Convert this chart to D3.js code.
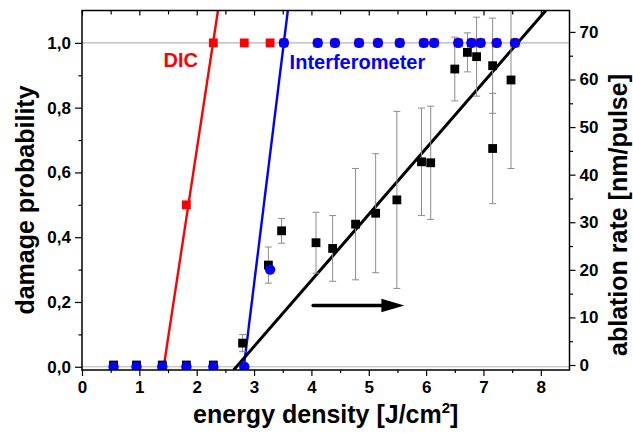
<!DOCTYPE html>
<html>
<head>
<meta charset="utf-8">
<script src="https://cdn.jsdelivr.net/npm/d3@7"></script>
<style>
  body { margin: 0; background: #fff; }
  svg { display: block; }
  text { font-family: "Liberation Sans", Arial, sans-serif; font-weight: bold; }
</style>
</head>
<body>
<svg id="chart" width="633" height="433"></svg>
<script>
// Energy density [J/cm²] of the damage tests
const energy = [0.55, 0.95, 1.40, 1.82, 2.29, 2.83, 3.28, 3.52, 4.11, 4.41, 4.83, 5.16, 5.54, 5.96, 6.14, 6.56, 6.79, 6.95, 7.23, 7.55];
// Damage probability seen with DIC microscopy
const dicProb = [0, 0, 0, 0.5, 1, 1, 1, 1, 1, 1, 1, 1, 1, 1, 1, 1, 1, 1, 1, 1];
// Damage probability seen with the interferometer
const ifmProb = [0, 0, 0, 0, 0, 0, 0.3, 1, 1, 1, 1, 1, 1, 1, 1, 1, 1, 1, 1, 1];

// Ablation rate [nm/pulse] with its spread
const ablEnergy = [0.55, 0.95, 1.40, 1.82, 2.29, 2.80, 3.25, 3.48, 4.08, 4.37, 4.77, 5.12, 5.49, 5.92, 6.08, 6.50, 6.72, 6.88, 7.16, 7.16, 7.48];
const ablRate   = [0, 0, 0, 0, 0, 4.6, 21.0, 28.2, 25.7, 24.5, 29.6, 31.9, 34.7, 42.7, 42.5, 62.2, 65.7, 64.8, 62.9, 45.5, 59.9];
const ablErr    = [0, 0, 0, 0, 0, 1.8, 3.8, 2.6, 6.4, 6.9, 11.7, 12.5, 18.6, 11.3, 11.9, 6.7, 4.1, 8.3, 10.0, 11.6, 18.6];

// Linear fits: value = slope * (E - onset)
const dicFit = { slope: 1.163, onset: 1.425 };
const ifmFit = { slope: 1.435, onset: 2.822 };
const ablFit = { slope: 13.88, onset: 2.72 };

// Tick values
const xMajor = [0, 1, 2, 3, 4, 5, 6, 7, 8];
const xMinor = [0.5, 1.5, 2.5, 3.5, 4.5, 5.5, 6.5, 7.5];
const yLMajor = [0, 0.2, 0.4, 0.6, 0.8, 1.0];
const yLMinor = [0.1, 0.3, 0.5, 0.7, 0.9];
const yRMajor = [0, 10, 20, 30, 40, 50, 60, 70];
const yRMinor = [5, 15, 25, 35, 45, 55, 65];

const svg = d3.select("#chart");
const L = 82, R = 569.5, T = 10.5, B = 370;

const x  = d3.scaleLinear().domain([0, 8.5]).range([L, R]);
const yL = d3.scaleLinear().domain([-0.01, 1.1]).range([B, T]);
const yR = d3.scaleLinear().domain([-1.05, 74.5]).range([B, T]);

svg.append("defs").append("clipPath").attr("id", "plot")
  .append("rect").attr("x", L).attr("y", T).attr("width", R - L).attr("height", B - T);

// reference lines at 0 and 1
[0, 1].forEach(v => {
  svg.append("line")
    .attr("x1", L).attr("x2", R).attr("y1", yL(v)).attr("y2", yL(v))
    .attr("stroke", "#b4b4b4").attr("stroke-width", 1.2);
});

const plot = svg.append("g").attr("clip-path", "url(#plot)");

// fit lines
function fitLine(fit, yScale, color, width) {
  const [lo, hi] = yScale.domain();
  const e0 = fit.onset + lo / fit.slope;
  const e1 = fit.onset + hi / fit.slope;
  plot.append("line")
    .attr("x1", x(e0)).attr("y1", yScale(lo))
    .attr("x2", x(e1)).attr("y2", yScale(hi))
    .attr("stroke", color).attr("stroke-width", width);
}
fitLine(dicFit, yL, "#ff0000", 2.4);
fitLine(ifmFit, yL, "#0000ff", 2.4);
fitLine(ablFit, yR, "#000000", 3);

// error bars of the ablation rate
const abl = ablEnergy.map((e, i) => ({ e, r: ablRate[i], s: ablErr[i] })).filter(d => d.s > 0);
const eb = plot.append("g").attr("stroke", "#8c8c8c").attr("stroke-width", 1);
abl.forEach(d => {
  const cx = x(d.e);
  eb.append("line").attr("x1", cx).attr("x2", cx).attr("y1", yR(d.r - d.s)).attr("y2", yR(d.r + d.s));
  [d.r - d.s, d.r + d.s].forEach(v => {
    eb.append("line").attr("x1", cx - 3.5).attr("x2", cx + 3.5).attr("y1", yR(v)).attr("y2", yR(v));
  });
});

const sq = 8.8;
// DIC points
plot.append("g").selectAll("rect").data(energy.map((e, i) => [e, dicProb[i]])).join("rect")
  .attr("x", d => x(d[0]) - sq / 2).attr("y", d => yL(d[1]) - sq / 2)
  .attr("width", sq).attr("height", sq).attr("fill", "#ff0000");

// ablation rate points
plot.append("g").selectAll("rect").data(ablEnergy.map((e, i) => [e, ablRate[i]])).join("rect")
  .attr("x", d => x(d[0]) - sq / 2).attr("y", d => yR(d[1]) - sq / 2)
  .attr("width", sq).attr("height", sq).attr("fill", "#000");

// interferometer points
plot.append("g").selectAll("circle").data(energy.map((e, i) => [e, ifmProb[i]])).join("circle")
  .attr("cx", d => x(d[0])).attr("cy", d => yL(d[1])).attr("r", 5.2).attr("fill", "#0000ff");

// arrow pointing to the right-hand axis
const ay = yR(12.5), ax0 = x(4.03), ax1 = x(5.62), ah = x(5.22);
svg.append("line").attr("x1", ax0).attr("x2", ah + 2).attr("y1", ay).attr("y2", ay)
  .attr("stroke", "#000").attr("stroke-width", 3.5).attr("stroke-linecap", "round");
svg.append("path")
  .attr("d", `M${ah},${ay - 6.8} L${ax1},${ay} L${ah},${ay + 6.8} Z`)
  .attr("fill", "#000");

// series labels
svg.append("text").attr("x", x(1.42)).attr("y", yL(0.926))
  .attr("fill", "#ff0000").attr("font-size", 20).text("DIC");
svg.append("text").attr("x", x(3.62)).attr("y", yL(0.92))
  .attr("fill", "#0000ff").attr("font-size", 20).text("Interferometer");

// axes
const comma = d => d3.format(".1f")(d).replace(".", ",");
function styleAxis(g) {
  g.select(".domain").remove();
  g.selectAll(".tick line").attr("stroke", "#000").attr("stroke-width", 1.2);
  g.selectAll(".tick text").attr("font-size", 17).attr("fill", "#000")
    .style("font-family", "'Liberation Sans', Arial, sans-serif").style("font-weight", "bold");
}
svg.append("g").attr("transform", `translate(0,${B})`)
  .call(d3.axisBottom(x).tickValues(xMajor).tickSize(6).tickPadding(5).tickFormat(d3.format("d"))).call(styleAxis);
svg.append("g").attr("transform", `translate(0,${B})`)
  .call(d3.axisBottom(x).tickValues(xMinor).tickSize(3).tickFormat("")).call(styleAxis);
svg.append("g").attr("transform", `translate(0,${T})`)
  .call(d3.axisBottom(x).tickValues(xMajor).tickSize(5).tickFormat("")).call(styleAxis);
svg.append("g").attr("transform", `translate(0,${T})`)
  .call(d3.axisBottom(x).tickValues(xMinor).tickSize(4).tickFormat("")).call(styleAxis);
svg.append("g").attr("transform", `translate(${L},0)`)
  .call(d3.axisLeft(yL).tickValues(yLMajor).tickSize(7).tickPadding(4).tickFormat(comma)).call(styleAxis);
svg.append("g").attr("transform", `translate(${L},0)`)
  .call(d3.axisLeft(yL).tickValues(yLMinor).tickSize(3.5).tickFormat("")).call(styleAxis);
svg.append("g").attr("transform", `translate(${R},0)`)
  .call(d3.axisRight(yR).tickValues(yRMajor).tickSize(6).tickPadding(4).tickFormat(d3.format("d"))).call(styleAxis);
svg.append("g").attr("transform", `translate(${R},0)`)
  .call(d3.axisRight(yR).tickValues(yRMinor).tickSize(3.5).tickFormat("")).call(styleAxis);

// frame
svg.append("rect").attr("x", L).attr("y", T).attr("width", R - L).attr("height", B - T)
  .attr("fill", "none").attr("stroke", "#000").attr("stroke-width", 1.5);

// axis titles
svg.append("text").attr("x", (L + R) / 2).attr("y", 423).attr("text-anchor", "middle")
  .attr("font-size", 25).text("energy density [J/cm").append("tspan").attr("dy", -10).attr("font-size", 15).text("2")
  .select(function () { return this.parentNode; }).append("tspan").attr("dy", 10).attr("font-size", 25).text("]");
svg.append("text").attr("transform", "translate(34,200) rotate(-90)").attr("text-anchor", "middle")
  .attr("font-size", 25).text("damage probability");
svg.append("text").attr("transform", "translate(627,215) rotate(-90)").attr("text-anchor", "middle")
  .attr("font-size", 25).text("ablation rate [nm/pulse]");
</script>
</body>
</html>
